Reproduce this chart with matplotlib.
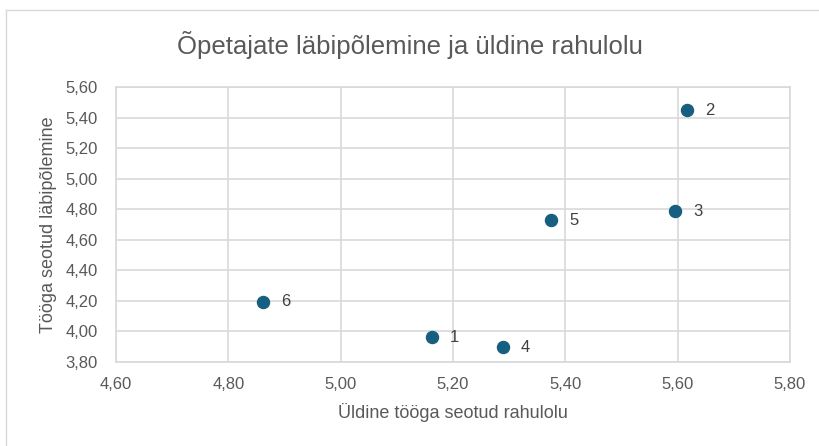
import matplotlib
matplotlib.use("Agg")
import matplotlib.pyplot as plt
from matplotlib.lines import Line2D
from matplotlib.ticker import FuncFormatter, MultipleLocator

# data
labels = ["1", "2", "3", "4", "5", "6"]
satisfaction = [5.162, 5.616, 5.595, 5.289, 5.375, 4.861]   # x
burnout = [3.963, 5.447, 4.787, 3.895, 4.728, 4.193]        # y

TEXT = "#595959"
GRID = "#d9d9d9"
DOT = "#175f80"

plt.rcParams["font.family"] = ["Liberation Sans Narrow", "Liberation Sans", "DejaVu Sans"]

fig = plt.figure(figsize=(8.2, 4.46), dpi=100)
ax = fig.add_axes([116 / 820, 1 - 362 / 446, (790 - 116) / 820, (362 - 87) / 446])

ax.scatter(satisfaction, burnout, s=75, color=DOT, zorder=3)
for x, y, lab in zip(satisfaction, burnout, labels):
    ax.annotate(lab, (x, y), xytext=(13, 0), textcoords="offset points",
                va="center", ha="left", fontsize=12, color="#404040")

ax.set_xlim(4.6, 5.8)
ax.set_ylim(3.8, 5.6)
ax.xaxis.set_major_locator(MultipleLocator(0.2))
ax.yaxis.set_major_locator(MultipleLocator(0.2))
comma = FuncFormatter(lambda v, _: f"{v:.2f}".replace(".", ","))
ax.xaxis.set_major_formatter(comma)
ax.yaxis.set_major_formatter(comma)
ax.tick_params(length=0, labelsize=12, colors=TEXT)
ax.tick_params(axis="x", pad=11)
ax.tick_params(axis="y", pad=13)
ax.grid(True, color=GRID, lw=1.2)
ax.set_axisbelow(True)
for sp in ax.spines.values():
    sp.set_color(GRID)
    sp.set_linewidth(1.2)

ax.set_xlabel("Üldine tööga seotud rahulolu", fontsize=13, color=TEXT, labelpad=8)
ax.set_ylabel("Tööga seotud läbipõlemine", fontsize=13, color=TEXT, labelpad=6)
fig.text(0.5, 1 - 45 / 446, "Õpetajate läbipõlemine ja üldine rahulolu",
         ha="center", va="center", fontsize=18.5, color=TEXT)

# outer chart frame (top and left edges visible)
fig.add_artist(Line2D([6 / 820, 6 / 820], [0, 1 - 10 / 446], color=GRID, lw=1,
                      transform=fig.transFigure))
fig.add_artist(Line2D([6 / 820, 1], [1 - 10 / 446, 1 - 10 / 446], color=GRID, lw=1,
                      transform=fig.transFigure))

fig.savefig("out.png", dpi=100)
